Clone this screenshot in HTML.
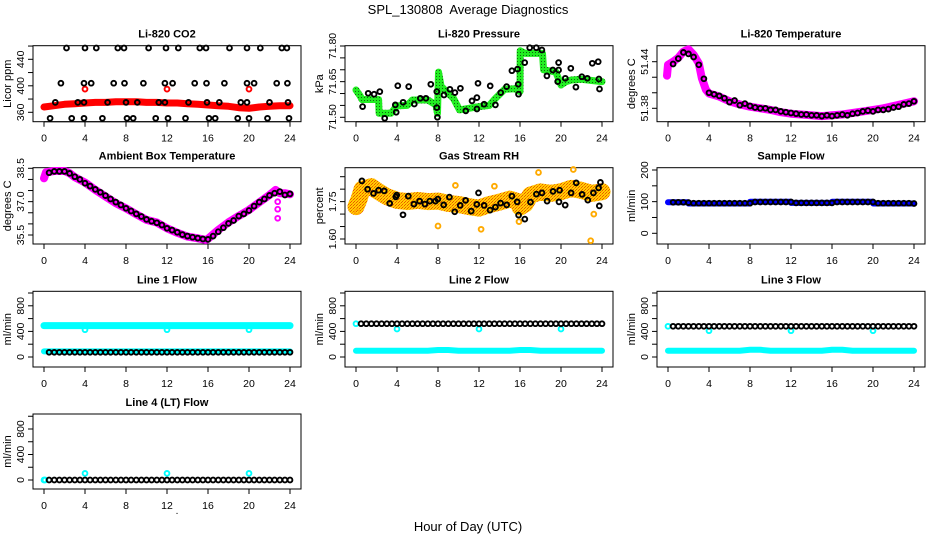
<!DOCTYPE html>
<html><head><meta charset="utf-8"><title>SPL_130808 Average Diagnostics</title>
<style>
html,body{margin:0;padding:0;background:#fff;}
svg{display:block;font-family:"Liberation Sans",Arial,sans-serif;}
.pt{font-size:11px;font-weight:bold;text-anchor:middle;}
.tk{font-size:10.5px;text-anchor:middle;}
.yt{font-size:11px;text-anchor:middle;}
</style></head>
<body>
<svg id="chart" width="936" height="540" viewBox="0 0 936 540">
<defs>
<pattern id="greenDots" width="3" height="3" patternUnits="userSpaceOnUse"><rect width="3" height="3" fill="#22ee22"/><rect x="1" y="1" width="1" height="1" fill="#116611"/></pattern>
<pattern id="rhDots" width="3" height="3" patternUnits="userSpaceOnUse"><rect width="3" height="3" fill="#ffd000"/><rect width="1" height="1" fill="#ee5500"/><rect x="2" y="1" width="1" height="1" fill="#ee5500"/><rect x="1" y="2" width="1" height="1" fill="#ff8800"/></pattern>
</defs>
<text x="468" y="14" font-size="13" text-anchor="middle" xml:space="preserve">SPL_130808&#160; Average Diagnostics</text>
<text x="468" y="531" font-size="13" text-anchor="middle">Hour of Day (UTC)</text>
<text x="177" y="514" font-size="10" text-anchor="middle">.</text>
</svg>
<script>
const xTicks = [0,4,8,12,16,20,24];
const halfHours = [0.5,1,1.5,2,2.5,3,3.5,4,4.5,5,5.5,6,6.5,7,7.5,8,8.5,9,9.5,10,10.5,11,11.5,12,12.5,13,13.5,14,14.5,15,15.5,16,16.5,17,17.5,18,18.5,19,19.5,20,20.5,21,21.5,22,22.5,23,23.5,24];
const hours = [0,1,2,3,4,5,6,7,8,9,10,11,12,13,14,15,16,17,18,19,20,21,22,23,24];

// CO2
const co2Red = [368,370,372,373,374,375,375,376,376,376,375,375,374,374,373,372,371,370,369,367,366,368,369,370,370];
const co2OutX = [4,12,20];
const co2OutY = [395,395,395];
const co2BlkX = [2.2,4.0,5.1,7.2,7.8,10.2,11.9,13.1,15.2,15.8,18.1,19.8,21.1,23.2,23.7,
 1.65,3.9,4.6,6.8,7.85,9.7,11.8,12.55,14.7,15.85,17.6,19.8,20.5,22.7,23.75,
 1.1,3.3,3.9,6.2,8.0,9.1,11.2,11.8,14.1,15.9,17.1,19.2,19.8,22.0,23.8,
 0.6,2.7,3.9,5.7,8.1,8.7,10.9,12.1,13.8,16.1,16.7,18.9,20.0,21.8,23.9];
const co2BlkY = [457,457,457,457,457,457,457,457,457,457,457,457,457,457,457,
 404,404,404,404,404,404,404,404,404,404,404,404,404,404,404,
 375,375,375,375,375,375,375,375,375,375,375,375,375,375,375,
 351,351,351,351,351,351,351,351,351,351,351,351,351,351,351];

// Pressure
const presBandX = [0,0.4,0.6,1.5,2.2,2.25,3.4,3.6,4,5,5.5,7,7.8,7.95,8.05,8.3,9,9.5,10.1,12,13,13.5,14.5,15.5,16,16.02,16.5,17.5,18.2,18.3,19.5,20,20.5,21,22,23,24];
const presBandY = [71.615,71.59,71.575,71.575,71.575,71.517,71.517,71.527,71.548,71.55,71.573,71.573,71.552,71.517,71.69,71.63,71.60,71.58,71.531,71.545,71.55,71.575,71.618,71.62,71.608,71.78,71.769,71.769,71.769,71.70,71.69,71.636,71.65,71.657,71.66,71.655,71.65];
const presBlkX = [0.64,1.19,1.77,2.32,2.8,3.83,3.92,4.08,4.6,5.14,5.69,6.27,6.82,7.3,7.88,7.94,7.88,8.59,9.16,9.65,10.19,10.71,11.32,11.8,11.9,11.8,12.5,13.09,13.6,14.12,14.69,15.21,15.76,15.82,15.85,16.46,16.95,17.59,18.14,18.62,19.2,19.77,19.77,19.68,20.42,20.96,21.45,22.03,22.57,23.05,23.63,23.7,23.76];
const presBlkY = [71.545,71.601,71.597,71.608,71.496,71.552,71.521,71.633,71.563,71.629,71.556,71.58,71.58,71.639,71.541,71.5,71.608,71.594,71.618,71.604,71.622,71.527,71.569,71.583,71.643,71.535,71.555,71.632,71.552,71.604,71.629,71.696,71.703,71.639,71.597,71.73,71.793,71.793,71.783,71.674,71.699,71.699,71.73,71.65,71.664,71.706,71.627,71.671,71.664,71.727,71.734,71.661,71.619];

// Li-820 Temperature
const tempBandX = [-0.1,0,0.5,1,1.5,2,2.5,3,3.3,3.7,4,5,6,7,8,9,10,11,12,13,14,15,16,17,18,19,20,21,22,23,24];
const tempBandY = [51.422,51.436,51.440,51.445,51.453,51.456,51.449,51.438,51.419,51.404,51.399,51.395,51.389,51.385,51.382,51.380,51.378,51.375,51.373,51.372,51.371,51.370,51.371,51.372,51.374,51.376,51.378,51.380,51.383,51.386,51.389];
const tempBlkY = [51.437,51.444,51.452,51.450,51.446,51.436,51.418,51.400,51.398,51.396,51.393,51.388,51.390,51.384,51.386,51.383,51.381,51.380,51.380,51.378,51.378,51.376,51.375,51.374,51.373,51.372,51.372,51.371,51.371,51.370,51.371,51.370,51.371,51.372,51.371,51.373,51.374,51.376,51.377,51.376,51.378,51.378,51.379,51.381,51.382,51.385,51.386,51.389];

// Ambient box temperature
const ambBandX = [0,0.2,1,2,2.5,3,4,5,6,7,8,9,10,11,12,13,14,15,15.8,16,17,18,19,20,21,22,22.6,23,23.5,24];
const ambBandY = [38.05,38.32,38.38,38.38,38.28,38.1,37.86,37.53,37.23,36.93,36.7,36.43,36.18,36.06,35.8,35.6,35.43,35.35,35.28,35.33,35.73,36.07,36.36,36.63,36.97,37.3,37.53,37.38,37.38,37.33];
const ambBlkY = [38.3,38.36,38.36,38.36,38.27,38.12,38.0,37.83,37.7,37.55,37.42,37.27,37.12,36.98,36.85,36.7,36.58,36.45,36.33,36.2,36.12,36.05,35.95,35.8,35.72,35.62,35.52,35.45,35.4,35.36,35.32,35.3,35.45,35.65,35.83,36.02,36.15,36.35,36.45,36.6,36.8,36.98,37.12,37.28,37.38,37.45,37.3,37.35];
const ambOutX = [22.8,22.8,22.8];
const ambOutY = [37.0,36.66,36.25];

// Gas stream RH
const rhBandX = [0,0.3,0.6,1.5,2,3,4,5,6,7,8,9,10,11,12,13,14,15,15.8,16,16.5,17,18,19,20,21,22,23,24];
const rhBandY = [1.73,1.76,1.80,1.81,1.795,1.77,1.755,1.75,1.755,1.75,1.752,1.743,1.739,1.73,1.724,1.738,1.748,1.76,1.75,1.728,1.74,1.776,1.789,1.783,1.79,1.803,1.795,1.783,1.79];
const rhOutX = [8.0,12.2,22.9,17.8,21.2,9.7,13.5,15.9,23.2,0.1];
const rhOutY = [1.652,1.639,1.593,1.867,1.879,1.815,1.812,1.67,1.70,1.71];
const rhBlkX = [0.58,1.13,1.71,2.2,2.75,3.29,3.88,3.97,4.59,5.1,5.65,6.2,6.72,7.2,7.75,7.98,8.56,9.11,9.63,10.17,10.69,11.24,11.79,11.95,12.5,13.08,13.6,14.11,14.7,15.21,15.73,15.86,16.47,17.02,17.6,18.15,18.64,19.22,19.8,19.86,20.41,20.99,21.48,22.06,22.61,23.16,23.67,23.74,23.84];
const rhBlkY = [1.833,1.8,1.783,1.796,1.793,1.743,1.769,1.776,1.697,1.772,1.74,1.752,1.74,1.752,1.752,1.76,1.737,1.768,1.709,1.735,1.755,1.712,1.739,1.785,1.735,1.716,1.728,1.744,1.737,1.772,1.749,1.696,1.68,1.748,1.78,1.785,1.752,1.791,1.749,1.796,1.736,1.785,1.825,1.779,1.756,1.785,1.805,1.733,1.827];

// Sample flow
const sampBandX = [0,2,2.01,8,8.01,12,12.01,16,16.01,20,20.01,24];
const sampBandY = [98,98,94,94,100,100,96,96,100,100,94,94];
const sampBlkY = [98,98,98,97,95,95,95,95,95,95,95,95,95,95,95,95,99,99,99,99,99,99,99,99,96,96,96,96,96,96,96,96,99,99,99,99,99,99,99,99,95,95,95,95,95,95,95,94];

// Line flows
const line1Cyan = [490,490,490,490,490,490,490,490,490,490,490,490,490,490,490,490,490,490,490,490,490,490,490,490,490];
const line1CyanLow = [88,88,88,88,88,88,88,88,88,88,88,88,88,88,88,88,88,88,88,88,88,88,88,88,88];
const line1Out = [427,427,427];
const line1Blk = [73,73,73,73,73,73,73,73,73,73,73,73,73,73,73,73,73,73,73,73,73,73,73,73,73,73,73,73,73,73,73,73,73,73,73,73,73,73,73,73,73,73,73,73,73,73,73,73];
const line2Cyan = [99,99,99,99,99,99,99,99,110,110,99,99,99,99,99,99,110,110,99,99,99,99,99,99,99];
const line2Out = [437,437,437];
const line2Blk = [521,521,521,521,521,521,521,521,521,521,521,521,521,521,521,521,521,521,521,521,521,521,521,521,521,521,521,521,521,521,521,521,521,521,521,521,521,521,521,521,521,521,521,521,521,521,521,521];
const line3Cyan = [99,99,99,99,99,99,99,99,112,112,99,99,99,99,99,99,112,112,99,99,99,99,99,99,99];
const line3Out = [411,411,411];
const line3Blk = [479,479,479,479,479,479,479,479,479,479,479,479,479,479,479,479,479,479,479,479,479,479,479,479,479,479,479,479,479,479,479,479,479,479,479,479,479,479,479,479,479,479,479,479,479,479,479,479];
const line4Out = [104,104,104];
const line4Blk = [0,0,0,0,0,0,0,0,0,0,0,0,0,0,0,0,0,0,0,0,0,0,0,0,0,0,0,0,0,0,0,0,0,0,0,0,0,0,0,0,0,0,0,0,0,0,0,0];
const outHours = [4,12,20];

const NS = 'http://www.w3.org/2000/svg';
const svg = document.getElementById('chart');
const colLeft = [33,345,657];
const rowBox = [[45.7,121.7],[167.7,244],[291.3,367],[414,489]];
const BOXW = 268;

function mk(tag, attrs, parent){
  const e = document.createElementNS(NS, tag);
  for (const k in attrs) e.setAttribute(k, attrs[k]);
  (parent||svg).appendChild(e);
  return e;
}

function makePanel(col,row,title,ylab,cal,ticks,labels){
  const g = mk('g',{});
  
  
  const L = colLeft[col], T = rowBox[row][0], B = rowBox[row][1];
  const xs = h => L + 11 + h*(246/24);
  const ys = v => cal[1] + (v-cal[0])*(cal[3]-cal[1])/(cal[2]-cal[0]);
  const box = mk('rect',{x:L,y:T,width:BOXW,height:B-T,fill:'none',stroke:'#000','stroke-width':1},g);
  
  
  const t = mk('text',{x:L+BOXW/2,y:T-8,class:'pt'},g);
  t.textContent = title;
  
  
  const yt = mk('text',{class:'yt',transform:`translate(${L-22},${(T+B)/2}) rotate(-90)`},g);
  yt.textContent = ylab;
  
  
  mk('line',{x1:xs(0),x2:xs(24),y1:B,y2:B,stroke:'#000'},g);
  xTicks.forEach(h=>{
    mk('line',{x1:xs(h),x2:xs(h),y1:B,y2:B+5,stroke:'#000'},g);
    const tl = mk('text',{x:xs(h),y:B+20,class:'tk'},g);
    tl.textContent = h;
    
    
  });
  ticks.forEach(v=>{
    mk('line',{x1:L-5,x2:L,y1:ys(v),y2:ys(v),stroke:'#000'},g);
  });
  labels.forEach(v=>{
    const yl = mk('text',{class:'tk',transform:`translate(${L-9},${ys(v)}) rotate(-90)`},g);
    yl.textContent = v;
    
    
  });
  const plot = mk('g',{},g);
  return {g:plot,xs,ys};
}

function band(p,X,Y,stroke,w,name){
  const pts = X.map((h,i)=>p.xs(h).toFixed(1)+','+p.ys(Y[i]).toFixed(1)).join(' ');
  const e = mk('polyline',{points:pts,fill:'none',stroke:stroke,'stroke-width':w,'stroke-linejoin':'round','stroke-linecap':'round'},p.g);
  
  
}
function pts(p,X,Y,color,name){
  X.forEach((h,i)=>{
    const c = mk('circle',{cx:p.xs(h).toFixed(1),cy:p.ys(Y[i]).toFixed(1),r:2.4,fill:'none',stroke:color,'stroke-width':1.9},p.g);
    
    
  });
}

let p = makePanel(0,0,'Li-820 CO2','Licor ppm',[360,112.3,440,59.3],[360,380,400,420,440,460],[360,400,440]);
band(p,hours,co2Red,'#ff0000',7,'co2-band');
pts(p,co2OutX,co2OutY,'#ff0000','co2-outlier');
pts(p,co2BlkX,co2BlkY,'#000','co2-point');

p = makePanel(1,0,'Li-820 Pressure','kPa',[71.5,117.3,71.8,46],[71.5,71.55,71.6,71.65,71.7,71.75,71.8],['71.50','71.65','71.80']);
band(p,presBandX,presBandY,'url(#greenDots)',7,'pressure-band');
pts(p,presBlkX,presBlkY,'#000','pressure-point');

p = makePanel(2,0,'Li-820 Temperature','degrees C',[51.38,108.3,51.44,61.7],[51.38,51.40,51.42,51.44],['51.38','51.44']);
band(p,tempBandX,tempBandY,'#ff00ff',8,'li820-temp-band');
pts(p,halfHours,tempBlkY,'#000','li820-temp-point');

p = makePanel(0,1,'Ambient Box Temperature','degrees C',[35.5,235,38.5,168.3],[35.5,36,36.5,37,37.5,38,38.5],['35.5','37.0','38.5']);
band(p,ambBandX,ambBandY,'#ff00ff',8,'ambient-temp-band');
pts(p,ambOutX,ambOutY,'#ff00ff','ambient-outlier');
pts(p,halfHours,ambBlkY,'#000','ambient-temp-point');

p = makePanel(1,1,'Gas Stream RH','percent',[1.60,239,1.85,176.7],[1.60,1.65,1.70,1.75,1.80,1.85],['1.60','1.75']);
band(p,rhBandX,rhBandY,'url(#rhDots)',17,'rh-band');
pts(p,rhOutX,rhOutY,'#ffaa00','rh-outlier');
pts(p,rhBlkX,rhBlkY,'#000','rh-point');

p = makePanel(2,1,'Sample Flow','ml/min',[0,233.3,200,170],[0,50,100,150,200],[0,100,200]);
band(p,sampBandX,sampBandY,'#0000ff',6,'sample-flow-band');
pts(p,halfHours,sampBlkY,'#000','sample-flow-point');

const flowTicks = [0,200,400,600,800,1000];
const flowLabels = [0,400,800];
p = makePanel(0,2,'Line 1 Flow','ml/min',[0,357,1000,293],flowTicks,flowLabels);
band(p,hours,line1Cyan,'#00ffff',7,'line1-cyan-band');
band(p,hours,line1CyanLow,'#00ffff',6,'line1-cyan-low-band');
pts(p,outHours,line1Out,'#00ffff','line1-outlier');
pts(p,halfHours,line1Blk,'#000','line1-point');

p = makePanel(1,2,'Line 2 Flow','ml/min',[0,357,1000,293],flowTicks,flowLabels);
band(p,hours,line2Cyan,'#00ffff',6,'line2-cyan-band');
pts(p,[0],[521],'#00ffff','line2-start');
pts(p,outHours,line2Out,'#00ffff','line2-outlier');
pts(p,halfHours,line2Blk,'#000','line2-point');

p = makePanel(2,2,'Line 3 Flow','ml/min',[0,357,1000,293],flowTicks,flowLabels);
band(p,hours,line3Cyan,'#00ffff',6,'line3-cyan-band');
pts(p,[0],[479],'#00ffff','line3-start');
pts(p,outHours,line3Out,'#00ffff','line3-outlier');
pts(p,halfHours,line3Blk,'#000','line3-point');

p = makePanel(0,3,'Line 4 (LT) Flow','ml/min',[0,480,800,429],flowTicks,flowLabels);
pts(p,[0,0.1],[0,0],'#00ffff','line4-start');
pts(p,outHours,line4Out,'#00ffff','line4-outlier');
pts(p,halfHours,line4Blk,'#000','line4-point');
</script>
</body></html>
